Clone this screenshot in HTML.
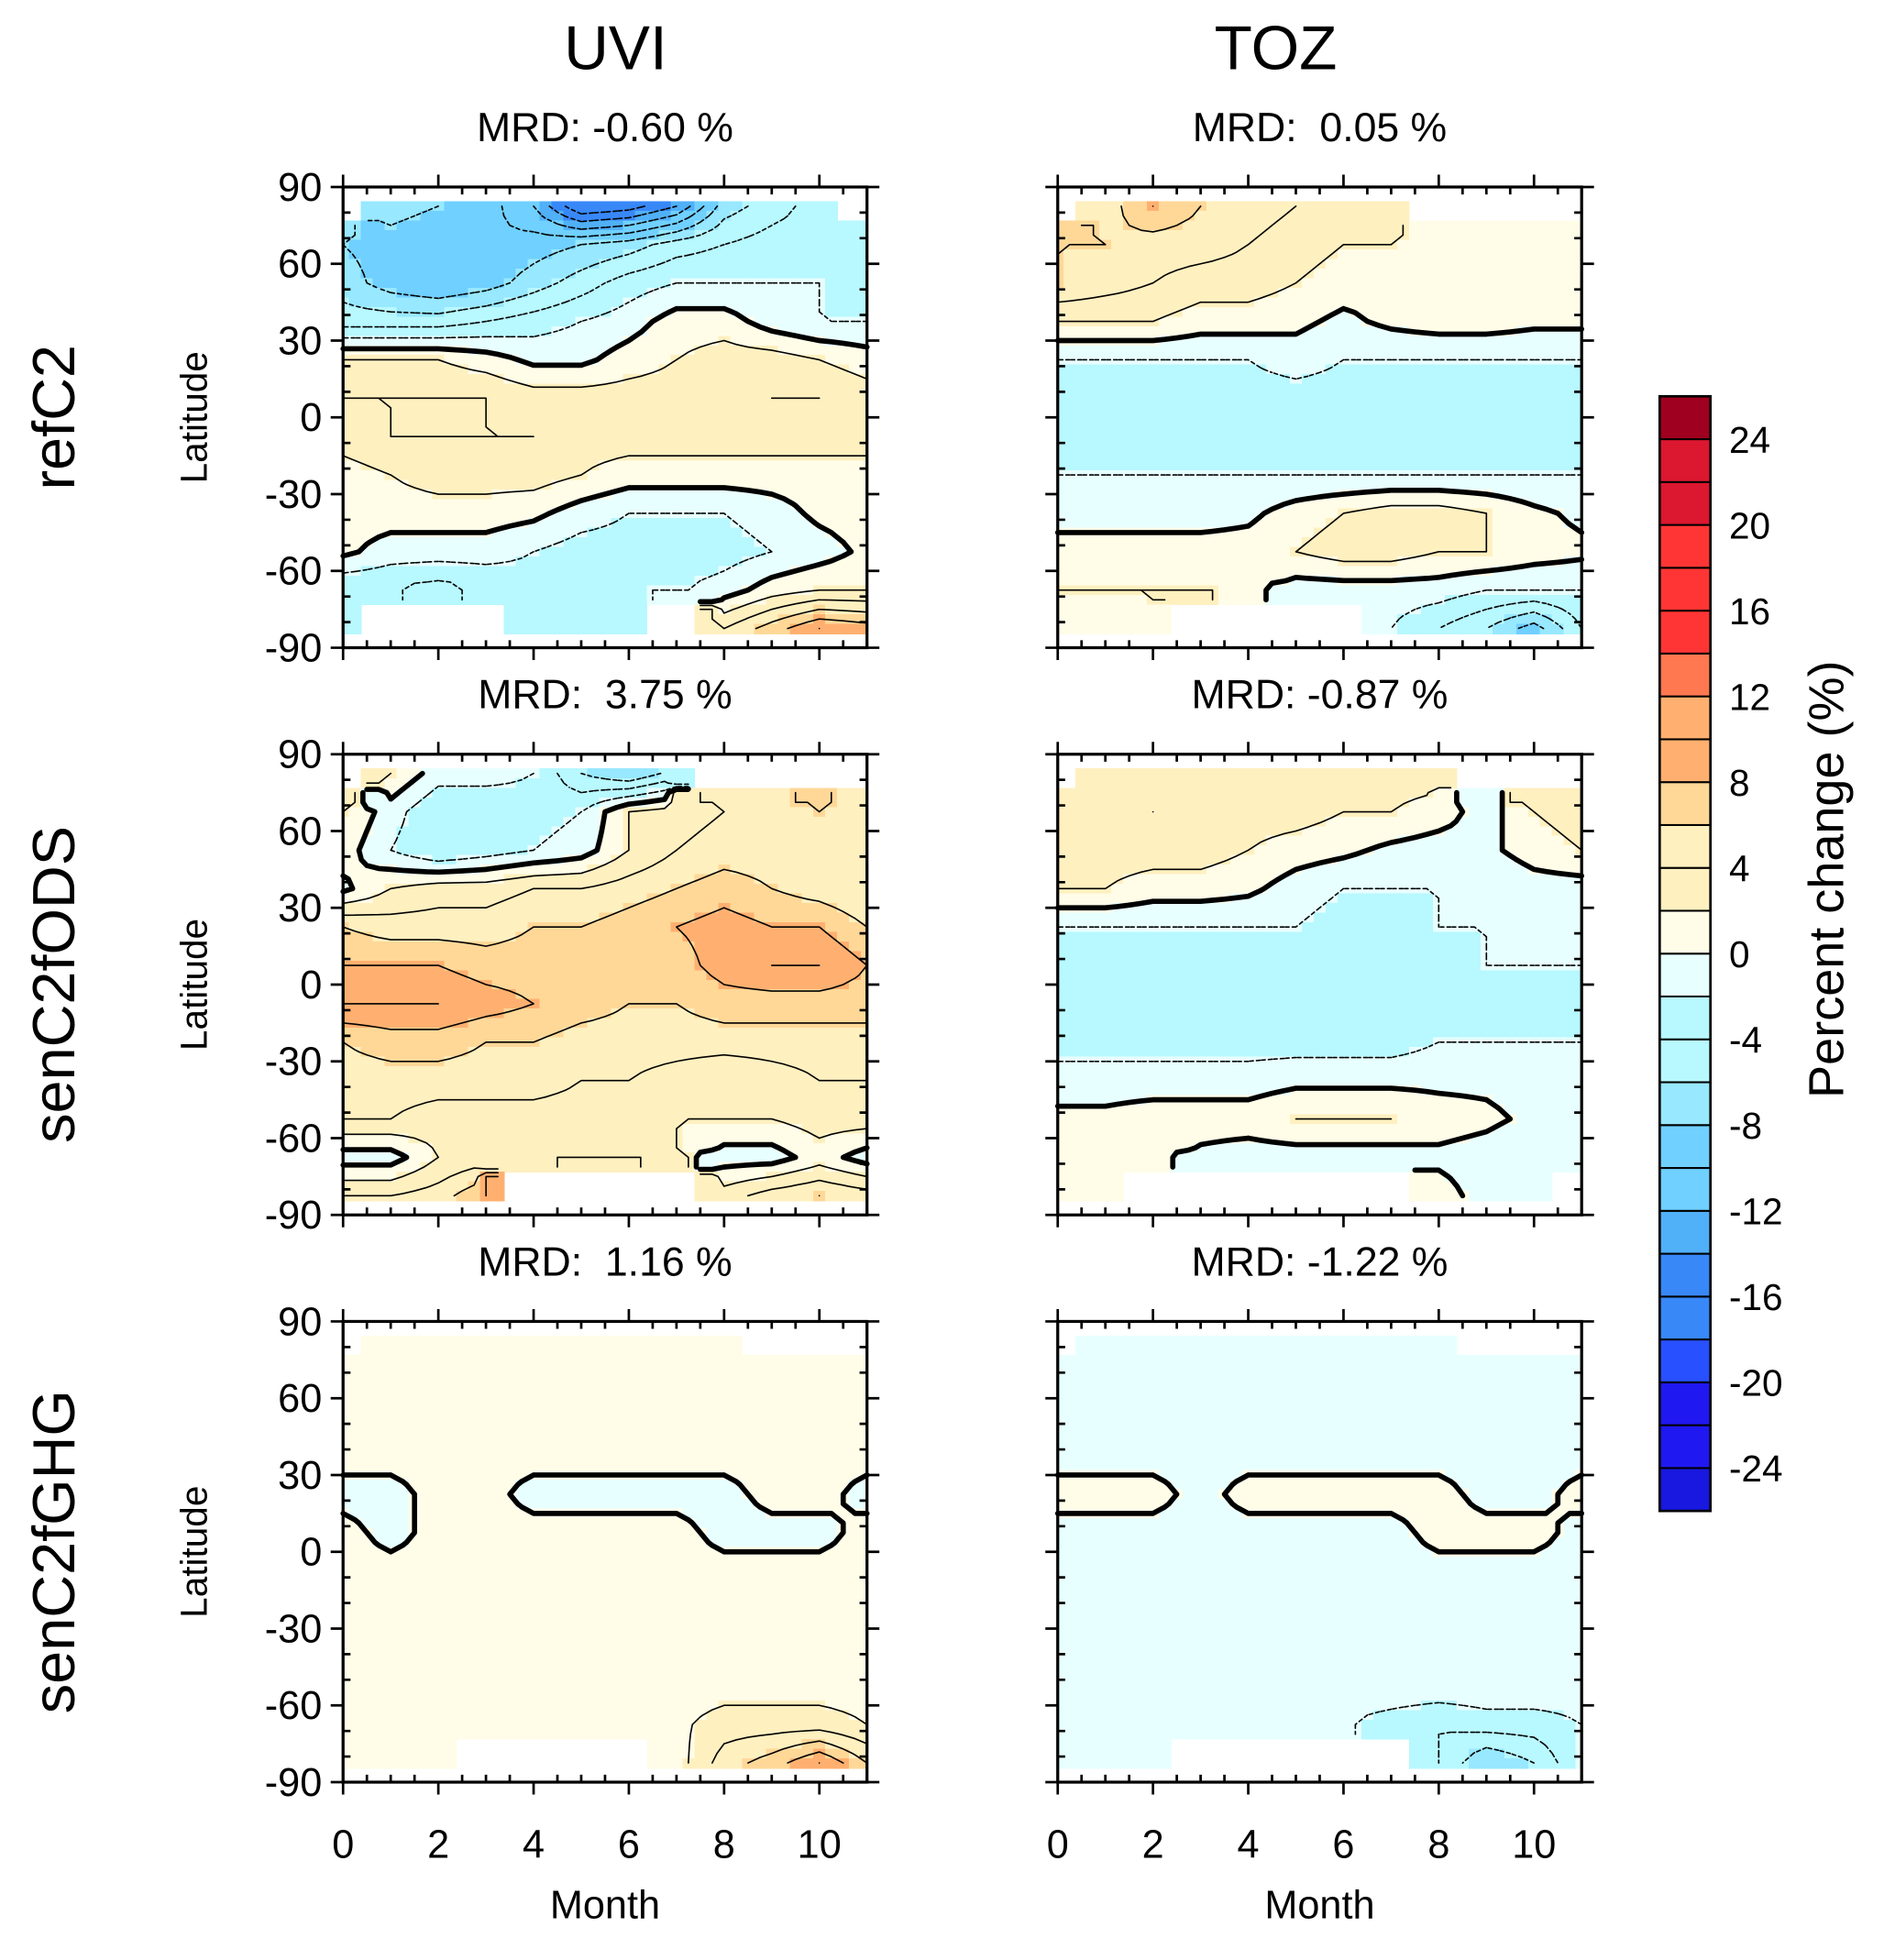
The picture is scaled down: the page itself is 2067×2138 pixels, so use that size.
<!DOCTYPE html>
<html><head><meta charset="utf-8">
<style>
html,body{margin:0;padding:0;background:#fff;}
svg{display:block;font-family:"Liberation Sans",sans-serif;}
</style></head>
<body>
<svg id="fig" width="2067" height="2138" viewBox="0 0 1530 1582.6" preserveAspectRatio="none" xmlns="http://www.w3.org/2000/svg">
<rect x="0" y="0" width="1530" height="1583" fill="#fff"/>
<g id="panels"></g>
<g id="labels">
<text x="497" y="56" font-size="50" text-anchor="middle">UVI</text>
<text x="1030" y="56" font-size="50" text-anchor="middle">TOZ</text>
<text transform="translate(60,337) rotate(-90)" font-size="48" text-anchor="middle">refC2</text>
<text transform="translate(60,795) rotate(-90)" font-size="48" text-anchor="middle">senC2fODS</text>
<text transform="translate(60,1253) rotate(-90)" font-size="48" text-anchor="middle">senC2fGHG</text>
</g>
<g id="cbar"></g>
</svg>
<script>
const NS="http://www.w3.org/2000/svg";
const months=[0,1,2,3,4,5,6,7,8,9,10,11];
const lats=[82.5,67.5,52.5,37.5,22.5,7.5,-7.5,-22.5,-37.5,-52.5,-67.5,-82.5];
const levels=[-24,-22,-20,-18,-16,-14,-12,-10,-8,-6,-4,-2,0,2,4,6,8,10,12,14,16,18,20,22,24];
const colorsBottomUp=["#1818e0","#2018f0","#2018f0","#2850ff","#3888f8","#3888f8","#50b0f8","#70d0ff","#70d0ff","#98e8ff","#b8f8ff","#b8f8ff","#e8ffff","#fffde8","#fff0c0","#fff0c0","#ffd898","#ffb070","#ffb070","#ff7850","#ff3535","#ff3535","#ff3535","#dc1730","#dc1730","#a00020"];
const cbLabels=[24,20,16,12,8,4,0,-4,-8,-12,-16,-20,-24];
const mrdUVIref=["-0.60"],mrdTOZref=["0.05"],mrdUVIods=["3.75"],mrdTOZods=["-0.87"],mrdUVIghg=["1.16"],mrdTOZghg=["-1.22"];
const n=null;
const uviRef=[
[n,-7,-8,-9,-12,-18,-17,-14,-7,-5,-3,n],
[-8,-9,-10,-10,-9,-8,-7,-5,-4,-3,-3,-3],
[-7,-9,-10,-9,-7,-5,-3,-2,-2,-2,-2,-3],
[-5,-5,-5,-4,-3,-2,-1,1,1,-1,-2,-2],
[2,2,2,1,-0.5,-0.5,1,2,3,3,2,1],
[4,4,4,4,3,3,3,3,3,4,4,3],
[3,4,4,4,4,3,3,3,3,3,3,3],
[1,2,3,3,3,2,1,1,1,1,1,1],
[1,1,1,1,0.5,-1,-2,-2,-2,-1,0.5,1],
[0.5,-1,-1,-1,-2,-3,-3,-4,-3,-2,-1,0.5],
[-4,-4,-5,-4,-3,-3,-3,-2,-1,1,2,2],
[-3,n,n,n,-4,-4,-3,n,4,7,10,9]];
const tozRef=[
[n,5,8,6,5,4,3,3,n,n,n,n],
[6,6,5,5,4,3,2,2,1,1,1,0.5],
[6,5,4,3,3,2,1,0.5,0.5,0.5,0.5,1],
[2,2,2,1,1,0.5,-0.5,0.5,1,1,0.5,0.5],
[-2,-2,-2,-2,-2,-1,-2,-2,-2,-2,-2,-2],
[-3,-3,-3,-3,-3,-3,-3,-3,-3,-3,-3,-3],
[-3,-3,-4,-3,-3,-3,-3,-3,-3,-3,-3,-3],
[-2,-2,-2,-2,-2,-2,-2,-2,-2,-2,-2,-2],
[-1,-1,-1,-1,-0.5,1,2,3,3,2,0.5,-0.5],
[1,1,1,1,1,2,3,3,2,2,1,0.5],
[2,2,2,2,1,-1,-1,-1,-1,-2,-2,-2],
[1,1,1,n,n,n,n,-2,-4,-6,-9,-4]];
const uviOds=[
[n,2,-1,-1,-2,-6,-8,-5,n,n,n,n],
[2,-1,-4,-4,-3,-2,2,3,4,5,6,5],
[1,-2,-4,-3,-2,-1,2,4,5,5,5,4],
[-0.5,2,3,3,4,4,5,6,7,6,5,4],
[6,5,5,5,6,6,7,8,9,8,8,6],
[8,8,8,7,7,6,6,7,9,10,10,8],
[10,10,10,9,8,7,6,6,7,7,7,7],
[6,7,7,6,6,5,5,5,5,5,5,5],
[5,5,5,5,5,4,4,3,2,3,4,4],
[4,4,3,3,3,3,3,2,2,2,3,3],
[-1,-1,2,3,3,4,4,2,-1,-1,1,-1],
[4,4,5,8,n,n,n,n,3,5,6,5]];
const tozOds=[
[n,3,3,3,3,3,3,3,3,n,n,n],
[3,3,4,3,3,3,2,2,1,-1,2,3],
[3,3,3,3,2,1,0.5,-0.5,-1,-0.5,1,2],
[2,2,1,1,0.5,-1,-2,-2,-2,-2,-1,-1],
[-2,-2,-2,-2,-2,-2,-3,-3,-2,-2,-2,-2],
[-3,-3,-3,-3,-3,-3,-3,-3,-3,-2,-2,-2],
[-3,-3,-3,-3,-3,-3,-3,-3,-3,-3,-3,-3],
[-3,-3,-3,-3,-3,-3,-3,-3,-2,-2,-2,-2],
[-1,-1,-1,-1,-1,-0.5,-0.5,-0.5,-0.5,-0.5,-1,-1],
[0.5,0.5,1,1,1,2,2,2,1,0.5,-0.5,-0.5],
[1,1,1,-0.5,-1,-1,-1,-1,-0.5,-1,-2,-2],
[1,1,n,n,n,n,n,n,1,-1,-2,n]];
const uviGhg=[
[n,1,1,1,1,1,1.5,1,1,n,n,n],
[0.5,0.5,0.5,0.5,0.5,0.5,0.5,0.5,0.5,0.5,0.5,0.5],
[0.5,0.5,0.5,0.5,0.5,0.5,0.5,0.5,0.5,0.5,0.5,0.5],
[0.5,0.5,0.5,0.5,0.5,0.5,0.5,0.5,0.5,0.5,0.5,0.5],
[-0.5,-0.5,0.5,0.5,-0.5,-0.5,-0.5,-0.5,-0.5,0.5,0.5,-0.5],
[0.5,-0.5,0.5,0.5,0.5,0.5,0.5,0.5,-0.5,-0.5,-0.5,0.5],
[0.5,0.5,0.5,0.5,0.5,0.5,0.5,0.5,0.5,0.5,0.5,0.5],
[0.5,0.5,0.5,0.5,0.5,0.5,0.5,0.5,0.5,0.5,0.5,0.5],
[1,0.5,0.5,0.5,0.5,0.5,0.5,0.5,0.5,0.5,0.5,0.5],
[1.5,1,1,1,1,1,1,1,1,1,1,1],
[1,1,1,1,1,1,1.5,1.5,3,3,3,2],
[1,1.5,1.5,n,n,n,n,1,5,7,10,6]];
const tozGhg=[
[n,-2,-0.5,-0.5,-0.5,-0.5,-0.5,-0.5,-0.5,n,n,n],
[-2,-2,-0.5,-0.5,-0.5,-0.5,-0.5,-0.5,-0.5,-0.5,-0.5,-0.5],
[-0.5,-0.5,-0.5,-0.5,-0.5,-0.5,-0.5,-0.5,-0.5,-0.5,-0.5,-0.5],
[-0.5,-0.5,-0.5,-0.5,-0.5,-0.5,-0.5,-0.5,-0.5,-0.5,-0.5,-0.5],
[0.5,0.5,0.5,-0.5,0.5,0.5,0.5,0.5,0.5,-0.5,-0.5,0.5],
[-0.5,-0.5,-0.5,-0.5,-0.5,-0.5,-0.5,-0.5,0.5,0.5,0.5,-0.5],
[-0.5,-0.5,-0.5,-0.5,-0.5,-0.5,-0.5,-0.5,-0.5,-0.5,-0.5,-0.5],
[-0.5,-0.5,-0.5,-0.5,-0.5,-0.5,-0.5,-0.5,-0.5,-0.5,-0.5,-0.5],
[-0.5,-0.5,-0.5,-0.5,-0.5,-0.5,-0.5,-0.5,-0.5,-0.5,-0.5,-0.5],
[-0.5,-0.5,-0.5,-0.5,-0.5,-0.5,-0.5,-0.5,-0.5,-0.5,-0.5,-1],
[-0.5,-0.5,-0.5,-0.5,-2,-2,-2,-3,-4,-3,-3,-2],
[-0.5,-0.5,-0.5,n,n,n,n,n,-4,-8,-6,-2]];

function colorFor(v){let i=Math.floor((v+24)/2)+1;i=Math.max(0,Math.min(25,i));return colorsBottomUp[i];}
function mk(tag,attrs,parent){const e=document.createElementNS(NS,tag);for(const k in attrs)e.setAttribute(k,attrs[k]);if(parent)parent.appendChild(e);return e;}

const panelsG=document.getElementById('panels');
const PW=423,PH=372;
const panelDefs=[
{data:uviRef,x0:277,y0:151,mrd:mrdUVIref[0],name:'panel-uvi-refc2',row:0,col:0},
{data:tozRef,x0:854,y0:151,mrd:mrdTOZref[0],name:'panel-toz-refc2',row:0,col:1},
{data:uviOds,x0:277,y0:609,mrd:mrdUVIods[0],name:'panel-uvi-senc2fods',row:1,col:0},
{data:tozOds,x0:854,y0:609,mrd:mrdTOZods[0],name:'panel-toz-senc2fods',row:1,col:1},
{data:uviGhg,x0:277,y0:1067,mrd:mrdUVIghg[0],name:'panel-uvi-senc2fghg',row:2,col:0},
{data:tozGhg,x0:854,y0:1067,mrd:mrdTOZghg[0],name:'panel-toz-senc2fghg',row:2,col:1}];

function interp(data,m,lat){
  let fi=(82.5-lat)/15; fi=Math.max(0,Math.min(11,fi));
  let fj=Math.max(0,Math.min(11,m));
  const i0=Math.floor(fi),i1=Math.min(11,i0+1),j0=Math.floor(fj),j1=Math.min(11,j0+1);
  const a=fi-i0,b=fj-j0;
  const v00=data[i0][j0],v01=data[i0][j1],v10=data[i1][j0],v11=data[i1][j1];
  if(v00===null||v01===null||v10===null||v11===null){
    const ni=a<0.5?i0:i1,nj=b<0.5?j0:j1;return data[ni][nj];
  }
  return v00*(1-a)*(1-b)+v01*(1-a)*b+v10*a*(1-b)+v11*a*b;
}

panelDefs.forEach(p=>{
  const g=mk('g',{},panelsG);
  
  
  const X=m=>p.x0+m/11*PW;
  const Y=l=>p.y0+(90-l)/180*PH;
  const NX=45,NY=45,dm=11/(NX-1),dl=165/(NY-1);
  const grid=[];
  for(let i=0;i<NY;i++){grid.push([]);const lat=82.5-i*dl;
    for(let j=0;j<NX;j++){grid[i].push(interp(p.data,j*dm,lat));}}
  const fill=mk('g',{'shape-rendering':'crispEdges'},g);
  
  
  for(let i=0;i<NY;i++){const lat=82.5-i*dl;
    let la=Math.min(84.5,lat+dl/2),lb=Math.max(-84.5,lat-dl/2);
    if(i===0)la=84.5; if(i===NY-1)lb=-84.5;
    for(let j=0;j<NX;j++){const v=grid[i][j];if(v===null)continue;
      const m0=Math.max(0,j*dm-dm/2),m1=Math.min(11,j*dm+dm/2);
      mk('rect',{x:X(m0).toFixed(2),y:Y(la).toFixed(2),width:(X(m1)-X(m0)+0.6).toFixed(2),height:(Y(lb)-Y(la)+0.6).toFixed(2),fill:colorFor(v)},fill);}}
  const cl=mk('g',{fill:'none',stroke:'#000','stroke-linecap':'round'},g);
  
  
  levels.forEach(L=>{
    let d='';
    for(let i=0;i<NY-1;i++)for(let j=0;j<NX-1;j++){
      const c=[[i,j],[i,j+1],[i+1,j+1],[i+1,j]];
      const v=c.map(q=>grid[q[0]][q[1]]);
      if(v.some(x=>x===null))continue;
      const pts=[];
      for(let k=0;k<4;k++){const a=v[k],b=v[(k+1)%4];
        if((a<L)!==(b<L)){const t=(L-a)/(b-a);const A=c[k],B=c[(k+1)%4];
          const ii=A[0]+(B[0]-A[0])*t,jj=A[1]+(B[1]-A[1])*t;
          pts.push([X(jj*dm),Y(82.5-ii*dl)]);}}
      if(pts.length>=2){d+='M'+pts[0][0].toFixed(1)+','+pts[0][1].toFixed(1)+'L'+pts[1][0].toFixed(1)+','+pts[1][1].toFixed(1);}
      if(pts.length===4){d+='M'+pts[2][0].toFixed(1)+','+pts[2][1].toFixed(1)+'L'+pts[3][0].toFixed(1)+','+pts[3][1].toFixed(1);}
    }
    if(d){const a={d:d,'stroke-width':L===0?4.2:1.2};if(L<0)a['stroke-dasharray']='3 2.5';const pa=mk('path',a,cl);
      
      }
  });
  const ax=mk('g',{stroke:'#000','stroke-width':2.4,fill:'none'},g);
  
  
  mk('rect',{x:p.x0,y:p.y0,width:PW,height:PH},ax);
  let td='';
  for(let m=0;m<=11.001;m+=0.5){const x=X(m);const major=Math.abs(m/2-Math.round(m/2))<1e-6;
    if(major){td+=`M${x},${p.y0}v-10M${x},${p.y0+PH}v10`;}else{td+=`M${x},${p.y0}v6M${x},${p.y0+PH}v-6`;}}
  for(let l=-90;l<=90;l+=10){const y=Y(l);const major=l%30===0;
    if(major){td+=`M${p.x0},${y}h-10M${p.x0+PW},${y}h10`;}else{td+=`M${p.x0},${y}h6M${p.x0+PW},${y}h-6`;}}
  mk('path',{d:td,'stroke-width':2},ax);
  const tt=mk('text',{x:p.x0+PW/2,y:p.y0-37,'font-size':33,'text-anchor':'middle'},g);
  
  
  tt.textContent='MRD: '+(p.mrd.startsWith('-')?p.mrd:'\u00a0'+p.mrd)+' %';
  if(p.col===0){
    for(let l=-90;l<=90;l+=30){const t=mk('text',{x:p.x0-17,y:Y(l)+11,'font-size':32,'text-anchor':'end'},g);
      
      
      t.textContent=l;}
    const yt=mk('text',{transform:`translate(${p.x0-110},${p.y0+PH/2}) rotate(-90)`,'font-size':30,'text-anchor':'middle'},g);
    
    
    yt.textContent='Latitude';
  }
  if(p.row===2){
    for(let m=0;m<=10;m+=2){const t=mk('text',{x:X(m),y:p.y0+PH+61,'font-size':32,'text-anchor':'middle'},g);
      
      
      t.textContent=m;}
    const xt=mk('text',{x:p.x0+PW/2,y:p.y0+PH+110,'font-size':32,'text-anchor':'middle'},g);
    
    
    xt.textContent='Month';
  }
});

const cb=document.getElementById('cbar');
const cbx=1340,cby=320,cbw=41,cbh=900,bh=cbh/colorsBottomUp.length;
colorsBottomUp.forEach((c,k)=>{
  const r=mk('rect',{x:cbx,y:cby+cbh-(k+1)*bh,width:cbw,height:bh,fill:c,stroke:'#000','stroke-width':1.5},cb);
  
  
});
mk('rect',{x:cbx,y:cby,width:cbw,height:cbh,fill:'none',stroke:'#000','stroke-width':2},cb);
cbLabels.forEach(v=>{
  const y=cby+cbh-bh-(v+24)/2*bh;
  const t=mk('text',{x:1396,y:y+11,'font-size':30},cb);
  
  
  t.textContent=v;
});
const ct=mk('text',{transform:'translate(1488,710) rotate(-90)','font-size':40,'text-anchor':'middle'},cb);


ct.textContent='Percent change (%)';
</script>
</body></html>
